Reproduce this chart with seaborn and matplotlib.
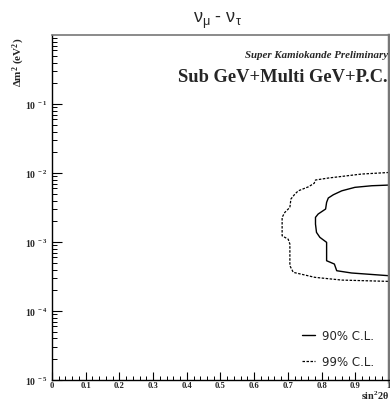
import numpy as np
import pandas as pd
import matplotlib
matplotlib.use("Agg")
import matplotlib.pyplot as plt
import seaborn as sns
from matplotlib.ticker import FixedLocator, FixedFormatter, LogLocator, NullFormatter, MultipleLocator

# ---- data ----
cl90_sin2 = [1.0, 0.949, 0.899, 0.860, 0.835, 0.820, 0.815, 0.812, 0.790, 0.782,
             0.782, 0.785, 0.795, 0.815, 0.815, 0.838, 0.845, 0.889, 1.0]
cl90_dm2 = [6.70e-3, 6.55e-3, 6.21e-3, 5.53e-3, 4.85e-3, 4.35e-3, 3.76e-3, 3.01e-3,
            2.55e-3, 2.28e-3, 1.82e-3, 1.38e-3, 1.17e-3, 9.9e-4, 5.36e-4, 4.80e-4,
            3.84e-4, 3.56e-4, 3.25e-4]
cl99_sin2 = [1.0, 0.919, 0.820, 0.782, 0.778, 0.761, 0.731, 0.721, 0.709, 0.706,
             0.691, 0.683, 0.683, 0.683, 0.701, 0.706, 0.706, 0.716, 0.780, 0.860, 1.0]
cl99_dm2 = [1.02e-2, 9.68e-3, 8.47e-3, 7.93e-3, 7.10e-3, 6.32e-3, 5.53e-3, 4.97e-3,
            4.20e-3, 3.18e-3, 2.69e-3, 2.28e-3, 1.82e-3, 1.23e-3, 1.10e-3, 9.35e-4,
            4.54e-4, 3.64e-4, 3.08e-4, 2.81e-4, 2.69e-4]
x_ticks = [0, 0.1, 0.2, 0.3, 0.4, 0.5, 0.6, 0.7, 0.8, 0.9, 1]
x_tick_labels = ["0", "0.1", "0.2", "0.3", "0.4", "0.5", "0.6", "0.7", "0.8", "0.9", "1"]
y_ticks = [1e-5, 1e-4, 1e-3, 1e-2, 1e-1]
y_tick_labels = [r"$\mathbf{10^{\ -5}}$", r"$\mathbf{10^{\ -4}}$", r"$\mathbf{10^{\ -3}}$",
                 r"$\mathbf{10^{\ -2}}$", r"$\mathbf{10^{\ -1}}$"]

sns.set_theme(style="white")
plt.rcParams["mathtext.fontset"] = "custom"
plt.rcParams["mathtext.rm"] = "Liberation Serif"
plt.rcParams["mathtext.bf"] = "Liberation Serif:bold"
plt.rcParams["mathtext.it"] = "Liberation Serif:italic"
plt.rcParams["mathtext.sf"] = "Liberation Sans"

fig = plt.figure(figsize=(3.9, 4.02), dpi=100)
ax = fig.add_axes([0.1333, 0.0522, 0.864, 0.858])

df90 = pd.DataFrame({"s": cl90_sin2, "m": cl90_dm2})
df99 = pd.DataFrame({"s": cl99_sin2, "m": cl99_dm2})
sns.lineplot(data=df90, x="s", y="m", sort=False, estimator=None, ax=ax,
             color="black", lw=1.0, label="90% C.L.")
sns.lineplot(data=df99, x="s", y="m", sort=False, estimator=None, ax=ax,
             color="black", lw=0.9, linestyle=(0, (2, 1.2)), label="99% C.L.")

ax.set_yscale("log")
ax.set_xlim(0, 1)
ax.set_ylim(1e-5, 1)

ax.xaxis.set_major_locator(FixedLocator(x_ticks))
ax.xaxis.set_major_formatter(FixedFormatter(x_tick_labels))
ax.xaxis.set_minor_locator(MultipleLocator(0.02))
ax.yaxis.set_major_locator(FixedLocator(y_ticks))
ax.yaxis.set_major_formatter(FixedFormatter(y_tick_labels))
ax.yaxis.set_minor_locator(LogLocator(base=10, subs=np.arange(2, 10)))
ax.yaxis.set_minor_formatter(NullFormatter())

ax.tick_params(axis="both", which="both", direction="in", left=True, bottom=True,
               top=False, right=False, color="black")
ax.tick_params(axis="x", which="major", length=6, width=0.8, pad=1.0)
ax.tick_params(axis="x", which="minor", length=3, width=0.7)
ax.tick_params(axis="y", which="major", length=7, width=0.8, pad=3)
ax.tick_params(axis="y", which="minor", length=3.5, width=0.7)
for lab in ax.get_xticklabels():
    lab.set_fontfamily("Liberation Serif")
    lab.set_fontweight("bold")
    lab.set_fontsize(6.2)
for lab in ax.get_yticklabels():
    lab.set_fontsize(7)

for side in ["left", "bottom"]:
    ax.spines[side].set_color("black")
    ax.spines[side].set_linewidth(1.0)
ax.spines["top"].set_color("#777777")
ax.spines["top"].set_linewidth(1.2)
ax.spines["right"].set_color("#777777")
ax.spines["right"].set_linewidth(2.5)

ax.set_xlabel("")
ax.set_ylabel("")
fig.text(0.963, 0.001, r"$\mathbf{sin^2 2\theta}$", fontsize=7.4, ha="center", va="bottom")
fig.text(0.049, 0.846, r"$\mathbf{\Delta m^2\ (eV^2)}$", fontsize=8, rotation=90,
         ha="center", va="center")
fig.text(0.559, 0.948, r"$\mathsf{\nu_\mu}$ - $\mathsf{\nu_\tau}$", fontsize=13,
         ha="center", va="center", family="Liberation Sans")

ax.text(0.998, 0.945, "Super Kamiokande Preliminary", transform=ax.transAxes,
        ha="right", va="center", fontsize=7.8, family="Liberation Serif",
        style="italic", weight="bold")
ax.text(0.997, 0.881, "Sub GeV+Multi GeV+P.C.", transform=ax.transAxes,
        ha="right", va="center", fontsize=13.3, family="Liberation Serif", weight="bold")

leg = ax.legend(loc="lower right", bbox_to_anchor=(0.955, 0.035), frameon=False,
                borderaxespad=0, borderpad=0,
                handlelength=1.1, handletextpad=0.6, labelspacing=1.1,
                prop={"family": "DejaVu Sans", "size": 8.5})

fig.savefig("out.png", dpi=100, facecolor="white")
